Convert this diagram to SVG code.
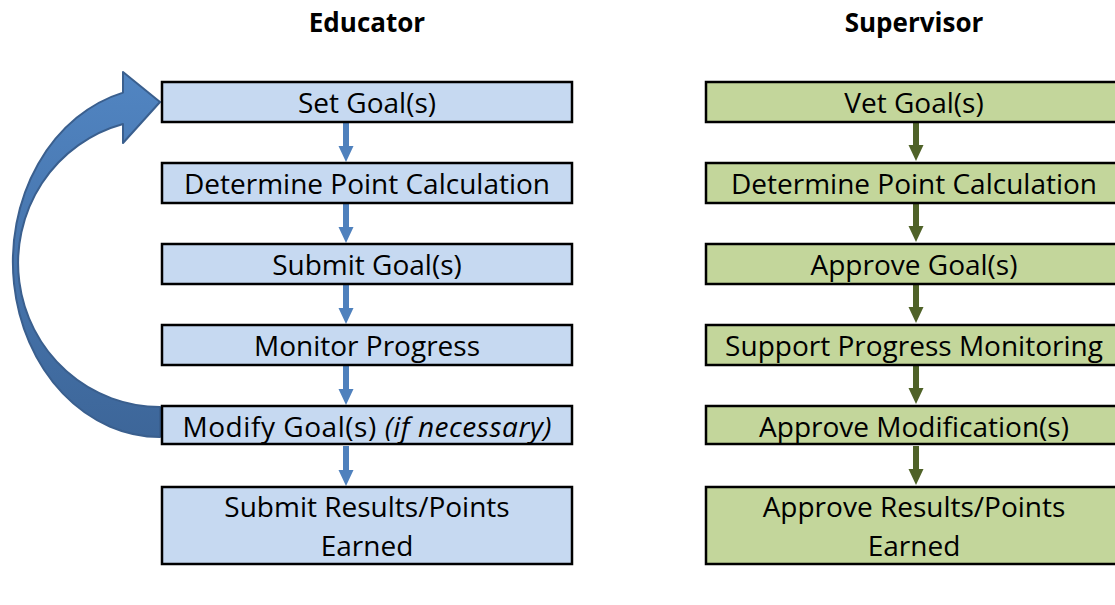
<svg xmlns="http://www.w3.org/2000/svg" width="1115" height="605" viewBox="0 0 1115 605">
<style>
.t{font-family:"Open Sans","DejaVu Sans",sans-serif;font-size:28px;fill:#000;text-anchor:middle}
.h{font-family:"Open Sans","DejaVu Sans",sans-serif;font-size:26px;font-weight:bold;fill:#000;text-anchor:middle}
.eb{fill:#c6d9f1;stroke:#000;stroke-width:2.5}
.sb{fill:#c3d69b;stroke:#000;stroke-width:2.5}
.ba{fill:#4f81bd}
.ga{fill:#4f6228}
</style>
<defs>
<linearGradient id="cg" x1="0" y1="0" x2="0" y2="1">
<stop offset="0" stop-color="#5185c2"/>
<stop offset="1" stop-color="#3d6699"/>
</linearGradient>
<path id="bar" d="M-3,0 H3 V24 H7.5 L0,40 L-7.5,24 H-3 Z"/>
<path id="gar" d="M-3,0 H3 V23 H7.5 L0,39 L-7.5,23 H-3 Z"/>
</defs>
<rect width="1115" height="605" fill="#fff"/>
<text class="h" x="367" y="32">Educator</text>
<text class="h" x="914" y="32">Supervisor</text>
<g id="connectors">
<use href="#bar" class="ba" x="346" y="122"/>
<use href="#bar" class="ba" x="346" y="203"/>
<use href="#bar" class="ba" x="346" y="284"/>
<use href="#bar" class="ba" x="346" y="365"/>
<use href="#bar" class="ba" x="346" y="446"/>
<use href="#gar" class="ga" x="916" y="122"/>
<use href="#gar" class="ga" x="916" y="203"/>
<use href="#gar" class="ga" x="916" y="284"/>
<use href="#gar" class="ga" x="916" y="365"/>
<use href="#gar" class="ga" x="916" y="446"/>
<path id="loop" d="M160,437 A147,175 0 0 1 123,92.6 L123,72 L160,102 L123,143 L123,124 A142,144 0 0 0 160,407 Z" fill="url(#cg)" stroke="#3a5f8e" stroke-width="2" stroke-linejoin="round"/>
</g>
<g id="e1"><rect class="eb" x="162" y="82" width="410" height="40"/><text class="t" x="367" y="113">Set Goal(s)</text></g>
<g id="e2"><rect class="eb" x="162" y="163" width="410" height="40"/><text class="t" x="367" y="194">Determine Point Calculation</text></g>
<g id="e3"><rect class="eb" x="162" y="244" width="410" height="40"/><text class="t" x="367" y="275">Submit Goal(s)</text></g>
<g id="e4"><rect class="eb" x="162" y="325" width="410" height="40"/><text class="t" x="367" y="356">Monitor Progress</text></g>
<g id="e5"><rect class="eb" x="162" y="406" width="410" height="38"/><text class="t" x="367" y="437" textLength="369" lengthAdjust="spacing">Modify Goal(s) <tspan font-style="italic">(if necessary)</tspan></text></g>
<g id="e6"><rect class="eb" x="162" y="487" width="410" height="77"/><text class="t" x="367" y="517">Submit Results/Points</text><text class="t" x="367" y="556">Earned</text></g>
<g id="s1"><rect class="sb" x="706" y="82" width="416" height="40"/><text class="t" x="914" y="113">Vet Goal(s)</text></g>
<g id="s2"><rect class="sb" x="706" y="163" width="416" height="40"/><text class="t" x="914" y="194">Determine Point Calculation</text></g>
<g id="s3"><rect class="sb" x="706" y="244" width="416" height="40"/><text class="t" x="914" y="275">Approve Goal(s)</text></g>
<g id="s4"><rect class="sb" x="706" y="325" width="416" height="40"/><text class="t" x="914" y="356">Support Progress Monitoring</text></g>
<g id="s5"><rect class="sb" x="706" y="406" width="416" height="38"/><text class="t" x="914" y="437">Approve Modification(s)</text></g>
<g id="s6"><rect class="sb" x="706" y="487" width="416" height="77"/><text class="t" x="914" y="517">Approve Results/Points</text><text class="t" x="914" y="556">Earned</text></g>
</svg>
